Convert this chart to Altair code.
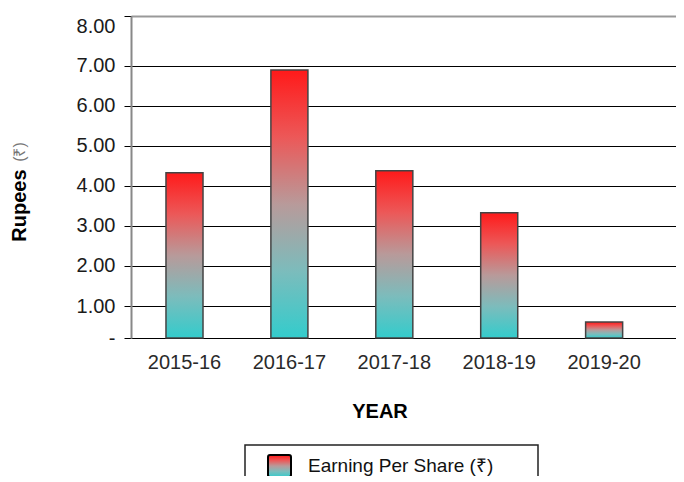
import altair as alt
import pandas as pd

years = ["2015-16", "2016-17", "2017-18", "2018-19", "2019-20"]
eps = [4.33, 6.89, 4.38, 3.33, 0.50]
y_ticks = [0, 1, 2, 3, 4, 5, 6, 7, 8]
legend_label = "Earning Per Share (₹)"

df = pd.DataFrame({"year": years, "eps": eps})
one = pd.DataFrame({"k": [0]})

W, H = 545, 322
FONT = "Liberation Sans"

grad = alt.LinearGradient(
    gradient="linear", x1=0, x2=0, y1=0, y2=1,
    stops=[
        alt.GradientStop(color="#ff1a1a", offset=0),
        alt.GradientStop(color="#ec5858", offset=0.25),
        alt.GradientStop(color="#b89a9a", offset=0.5),
        alt.GradientStop(color="#7cbcbc", offset=0.75),
        alt.GradientStop(color="#33cccc", offset=1),
    ],
)

yscale = alt.Scale(domain=[0, 1, 7, 8], range=[322, 290, 49.7, 0])

bars = alt.Chart(df).mark_bar(fill=grad, stroke="#444444", strokeWidth=1.5).encode(
    x=alt.X("year:N", sort=years,
            scale=alt.Scale(paddingInner=0.647, paddingOuter=0.421, align=0.396),
            axis=alt.Axis(title=None, domain=False, ticks=False, grid=False,
                          labelFont=FONT, labelFontSize=20, labelColor="#2a2a2a",
                          labelPadding=14, labelAngle=0)),
    y=alt.Y("eps:Q", scale=yscale,
            axis=alt.Axis(title=None, values=y_ticks,
                          labelExpr="datum.value == 0 ? '-' : format(datum.value, '.2f')",
                          labelFont=FONT, labelFontSize=20, labelColor="#1a1a1a",
                          labelPadding=9, tickSize=7, tickColor="#000", tickWidth=1,
                          domainColor="#888888", domainWidth=2,
                          labelBaseline={"condition": {"test": "datum.value == 8", "value": "top"}, "value": "middle"},
                          grid=True,
                          gridColor={"condition": {"test": "datum.value == 8", "value": "#999999"}, "value": "#000000"},
                          gridWidth={"condition": {"test": "datum.value == 8", "value": 2}, "value": 1},
                          gridOpacity=1)),
)

ytitle1 = alt.Chart(one).mark_text(
    text="Rupees", angle=270, align="center", baseline="middle",
    font=FONT, fontWeight="bold", fontSize=20, color="#000"
).encode(x=alt.value(-111), y=alt.value(189.5))

ytitle2 = alt.Chart(one).mark_text(
    text="(₹)", angle=270, align="center", baseline="middle",
    font=FONT, fontSize=16, color="#777777"
).encode(x=alt.value(-111), y=alt.value(136))

xtitle = alt.Chart(one).mark_text(
    text="YEAR", align="center", baseline="alphabetic",
    font=FONT, fontWeight="bold", fontSize=20, color="#000"
).encode(x=alt.value(249), y=alt.value(402))

legbox = alt.Chart(one).mark_rect(
    fill="white", fillOpacity=0, stroke="#222", strokeWidth=1.5
).encode(x=alt.value(114), x2=alt.value(407), y=alt.value(429), y2=alt.value(520))

legsym = alt.Chart(one).mark_rect(
    fill=grad, stroke="#000", strokeWidth=2, cornerRadius=2
).encode(x=alt.value(137), x2=alt.value(160), y=alt.value(439), y2=alt.value(461))

legtext = alt.Chart(one).mark_text(
    text=legend_label, align="left", baseline="middle",
    font=FONT, fontSize=19, color="#111"
).encode(x=alt.value(177), y=alt.value(450))

chart = alt.layer(bars, ytitle1, ytitle2, xtitle, legbox, legsym, legtext).properties(
    width=W, height=H,
    autosize=alt.AutoSizeParams(type="none"),
    padding={"left": 123, "top": 8, "right": 0, "bottom": 138},
).configure_view(stroke=None)

chart.save("out.html", embed_options={"renderer": "svg", "actions": False})
